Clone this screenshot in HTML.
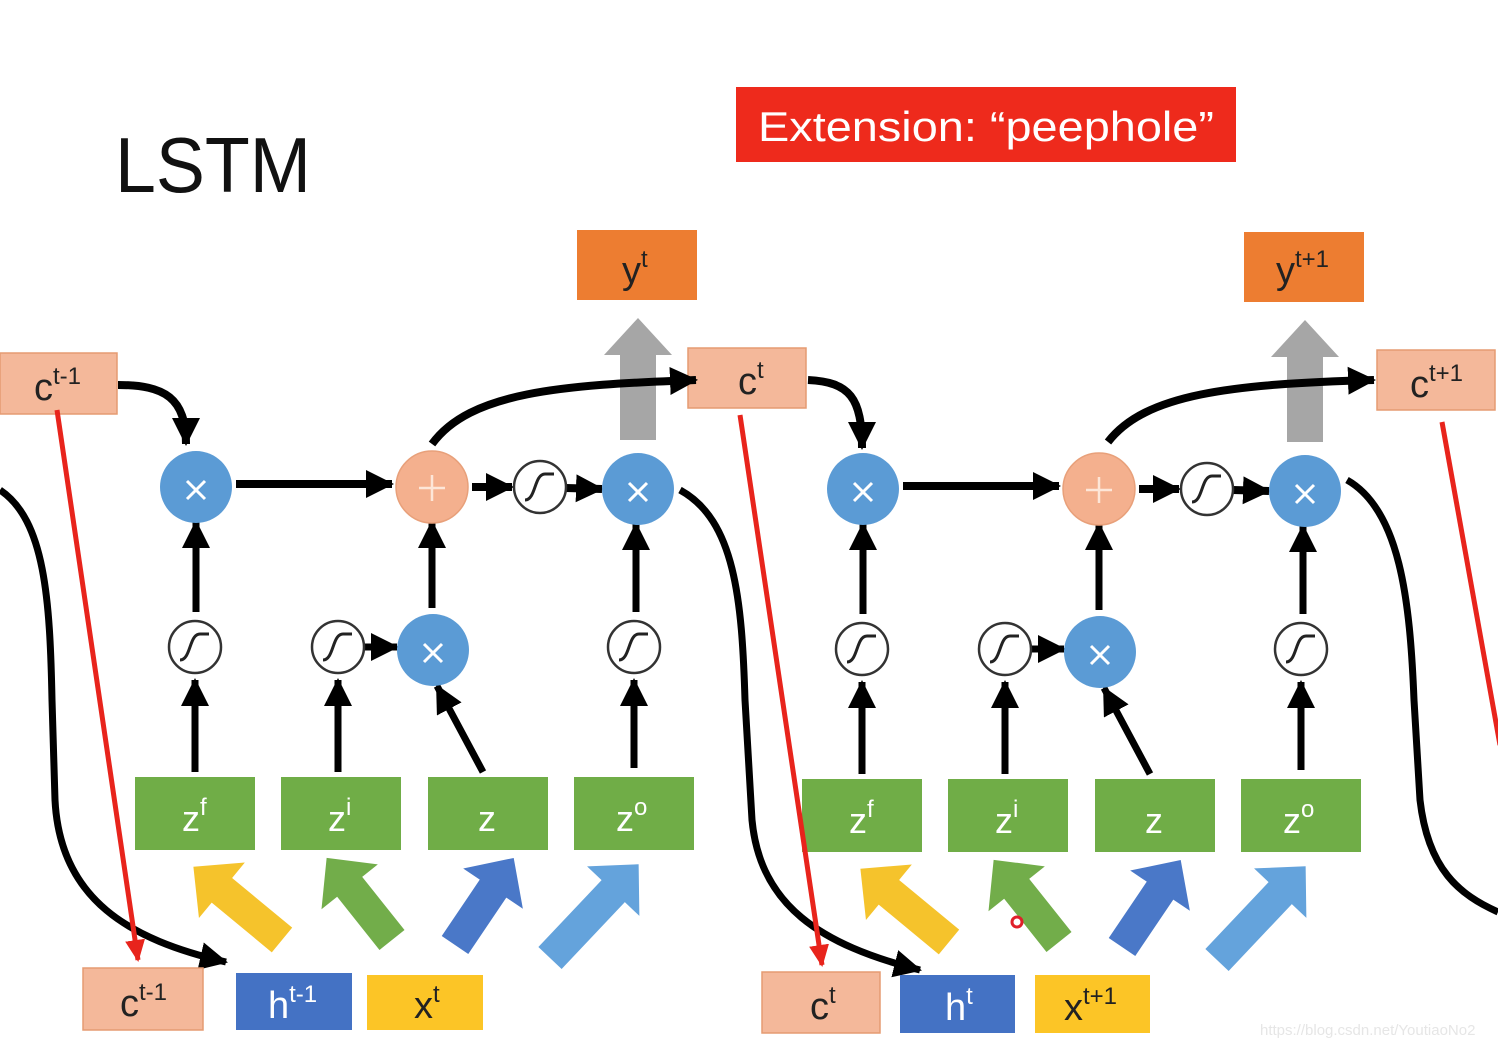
<!DOCTYPE html>
<html><head><meta charset="utf-8"><style>
html,body{margin:0;padding:0;background:#fff;}
svg{display:block;}
text{font-family:"Liberation Sans",sans-serif;}
</style></head><body>
<svg width="1498" height="1048" viewBox="0 0 1498 1048" xmlns="http://www.w3.org/2000/svg">
<defs>
<marker id="ah" markerUnits="userSpaceOnUse" markerWidth="32" markerHeight="32" refX="26" refY="14" orient="auto">
<path d="M0,0 L28,14 L0,28 Z" fill="#000"/>
</marker>
<marker id="ahr" markerUnits="userSpaceOnUse" markerWidth="26" markerHeight="26" refX="20" refY="10" orient="auto">
<path d="M0,0 L22,10 L0,20 Z" fill="#e8241c"/>
</marker>
<g id="sig">
<circle r="26" fill="#fff" stroke="#333" stroke-width="2.5"/>
<path d="M-15,13 C-4,13 -6,-13 5,-13 L14,-13" fill="none" stroke="#222" stroke-width="3"/>
</g>
<g id="cross"><path d="M-9,-9 L9,9 M9,-9 L-9,9" stroke="#fff" stroke-width="3"/></g>
<g id="cell">
<!-- y box -->
<rect x="577" y="230" width="120" height="70" fill="#ed7d31"/>
<!-- gray arrow -->
<path d="M620,440 L620,355 L604,355 L638,318 L672,355 L656,355 L656,440 Z" fill="#a6a6a6"/>
<!-- connectors -->
<line x1="236" y1="484" x2="392" y2="484" stroke="#000" stroke-width="8" marker-end="url(#ah)"/>
<line x1="472" y1="487" x2="512" y2="487" stroke="#000" stroke-width="8" marker-end="url(#ah)"/>
<line x1="566" y1="488" x2="602" y2="489" stroke="#000" stroke-width="8" marker-end="url(#ah)"/>
<line x1="196" y1="612" x2="196" y2="522" stroke="#000" stroke-width="7" marker-end="url(#ah)"/>
<line x1="432" y1="608" x2="432" y2="522" stroke="#000" stroke-width="7" marker-end="url(#ah)"/>
<line x1="636" y1="612" x2="636" y2="524" stroke="#000" stroke-width="7" marker-end="url(#ah)"/>
<line x1="195" y1="772" x2="195" y2="680" stroke="#000" stroke-width="7" marker-end="url(#ah)"/>
<line x1="338" y1="772" x2="338" y2="680" stroke="#000" stroke-width="7" marker-end="url(#ah)"/>
<line x1="634" y1="768" x2="634" y2="680" stroke="#000" stroke-width="7" marker-end="url(#ah)"/>
<line x1="483" y1="772" x2="437" y2="686" stroke="#000" stroke-width="7" marker-end="url(#ah)"/>
<line x1="365" y1="647" x2="397" y2="647" stroke="#000" stroke-width="7" marker-end="url(#ah)"/>
<!-- circles -->
<circle cx="196" cy="487" r="36" fill="#5b9bd5"/><use href="#cross" x="196" y="490"/>
<circle cx="432" cy="487" r="36" fill="#f4b08e" stroke="#e8a07a" stroke-width="1.5"/>
<path d="M432,475 L432,501 M419,488 L445,488" stroke="#fde6d8" stroke-width="2.5"/>
<use href="#sig" x="540" y="487"/>
<circle cx="638" cy="489" r="36" fill="#5b9bd5"/><use href="#cross" x="638" y="492"/>
<use href="#sig" x="195" y="647"/>
<use href="#sig" x="338" y="647"/>
<use href="#sig" x="634" y="647"/>
<circle cx="433" cy="650" r="36" fill="#5b9bd5"/><use href="#cross" x="433" y="653"/>
<!-- green boxes -->
<rect x="135" y="777" width="120" height="73" fill="#70ad47"/>
<rect x="281" y="777" width="120" height="73" fill="#70ad47"/>
<rect x="428" y="777" width="120" height="73" fill="#70ad47"/>
<rect x="574" y="777" width="120" height="73" fill="#70ad47"/>
<text x="182" y="831" font-size="36" fill="#fff">z<tspan font-size="24" dy="-16">f</tspan></text>
<text x="328" y="831" font-size="36" fill="#fff">z<tspan font-size="24" dy="-16">i</tspan></text>
<text x="478" y="831" font-size="36" fill="#fff">z</text>
<text x="616" y="831" font-size="36" fill="#fff">z<tspan font-size="24" dy="-16">o</tspan></text>
<!-- colored thick arrows -->
<g transform="translate(282,940) rotate(219.6)"><path d="M0,-16 L78,-16 L78,-36 L115,0 L78,36 L78,16 L0,16 Z" fill="#f5c32c"/></g>
<g transform="translate(392,940) rotate(231.5)"><path d="M0,-16 L68,-16 L68,-36 L105,0 L68,36 L68,16 L0,16 Z" fill="#72ad4a"/></g>
<g transform="translate(455,945) rotate(-56)"><path d="M0,-16 L68,-16 L68,-36 L105,0 L68,36 L68,16 L0,16 Z" fill="#4a78c8"/></g>
<g transform="translate(550,958) rotate(-46.6)"><path d="M0,-16 L92,-16 L92,-36 L129,0 L92,36 L92,16 L0,16 Z" fill="#64a3dc"/></g>
</g>
</defs>

<!-- title -->
<text x="115" y="192" font-size="78" fill="#111" textLength="196" lengthAdjust="spacingAndGlyphs">LSTM</text>
<rect x="736" y="87" width="500" height="75" fill="#ee2a1c"/>
<text x="758" y="141" font-size="42" fill="#fff" textLength="456" lengthAdjust="spacingAndGlyphs">Extension: “peephole”</text>

<use href="#cell"/>
<use href="#cell" transform="translate(667,2)"/>

<!-- y labels -->
<text x="622" y="283" font-size="38" fill="#222">y<tspan font-size="24" dy="-16">t</tspan></text>
<text x="1276" y="283" font-size="38" fill="#222">y<tspan font-size="24" dy="-16">t+1</tspan></text>

<!-- cell state boxes -->
<rect x="0" y="353" width="117" height="61" fill="#f4b89a" stroke="#e59b72" stroke-width="1.5"/>
<text x="34" y="400" font-size="38" fill="#222">c<tspan font-size="24" dy="-16">t-1</tspan></text>
<rect x="688" y="348" width="118" height="60" fill="#f4b89a" stroke="#e59b72" stroke-width="1.5"/>
<text x="738" y="394" font-size="38" fill="#222">c<tspan font-size="24" dy="-16">t</tspan></text>
<rect x="1377" y="350" width="118" height="60" fill="#f4b89a" stroke="#e59b72" stroke-width="1.5"/>
<text x="1410" y="397" font-size="38" fill="#222">c<tspan font-size="24" dy="-16">t+1</tspan></text>

<!-- top curves -->
<path d="M118,385 C165,385 186,398 186,444" fill="none" stroke="#000" stroke-width="8" marker-end="url(#ah)"/>
<path d="M808,380 C850,382 862,398 862,448" fill="none" stroke="#000" stroke-width="8" marker-end="url(#ah)"/>
<path d="M432,444 C470,392 560,385 696,380" fill="none" stroke="#000" stroke-width="8" marker-end="url(#ah)"/>
<path d="M1108,442 C1145,394 1230,384 1374,380" fill="none" stroke="#000" stroke-width="8" marker-end="url(#ah)"/>

<!-- black long curves -->
<path d="M0,490 C45,520 50,600 52,700 L55,800 C60,900 130,940 226,962" fill="none" stroke="#000" stroke-width="7" marker-end="url(#ah)"/>
<path d="M680,490 C735,520 742,600 745,700 L752,820 C760,905 820,945 920,970" fill="none" stroke="#000" stroke-width="7" marker-end="url(#ah)"/>
<path d="M1347,480 C1400,510 1410,600 1414,700 L1420,800 C1428,870 1460,895 1498,912" fill="none" stroke="#000" stroke-width="7"/>

<!-- red peephole lines -->
<line x1="57" y1="410" x2="138" y2="960" stroke="#e8241c" stroke-width="5" marker-end="url(#ahr)"/>
<line x1="740" y1="415" x2="822" y2="965" stroke="#e8241c" stroke-width="5" marker-end="url(#ahr)"/>
<line x1="1442" y1="422" x2="1500" y2="745" stroke="#e8241c" stroke-width="5"/>

<!-- bottom boxes cell 1 -->
<rect x="83" y="968" width="120" height="62" fill="#f4b89a" stroke="#e59b72" stroke-width="1.5"/>
<text x="120" y="1016" font-size="38" fill="#222">c<tspan font-size="24" dy="-16">t-1</tspan></text>
<rect x="236" y="973" width="116" height="57" fill="#4472c4"/>
<text x="268" y="1018" font-size="38" fill="#fff">h<tspan font-size="24" dy="-16">t-1</tspan></text>
<rect x="367" y="975" width="116" height="55" fill="#fcc526"/>
<text x="414" y="1018" font-size="38" fill="#222">x<tspan font-size="24" dy="-16">t</tspan></text>

<!-- bottom boxes cell 2 -->
<rect x="762" y="972" width="118" height="61" fill="#f4b89a" stroke="#e59b72" stroke-width="1.5"/>
<text x="810" y="1019" font-size="38" fill="#222">c<tspan font-size="24" dy="-16">t</tspan></text>
<rect x="900" y="975" width="115" height="58" fill="#4472c4"/>
<text x="945" y="1020" font-size="38" fill="#fff">h<tspan font-size="24" dy="-16">t</tspan></text>
<rect x="1035" y="975" width="115" height="58" fill="#fcc526"/>
<text x="1064" y="1020" font-size="38" fill="#222">x<tspan font-size="24" dy="-16">t+1</tspan></text>

<circle cx="1017" cy="922" r="5" fill="none" stroke="#e0202a" stroke-width="3"/>

<text x="1260" y="1035" font-size="15" fill="#e6e6e6">https://blog.csdn.net/YoutiaoNo2</text>
</svg>
</body></html>
